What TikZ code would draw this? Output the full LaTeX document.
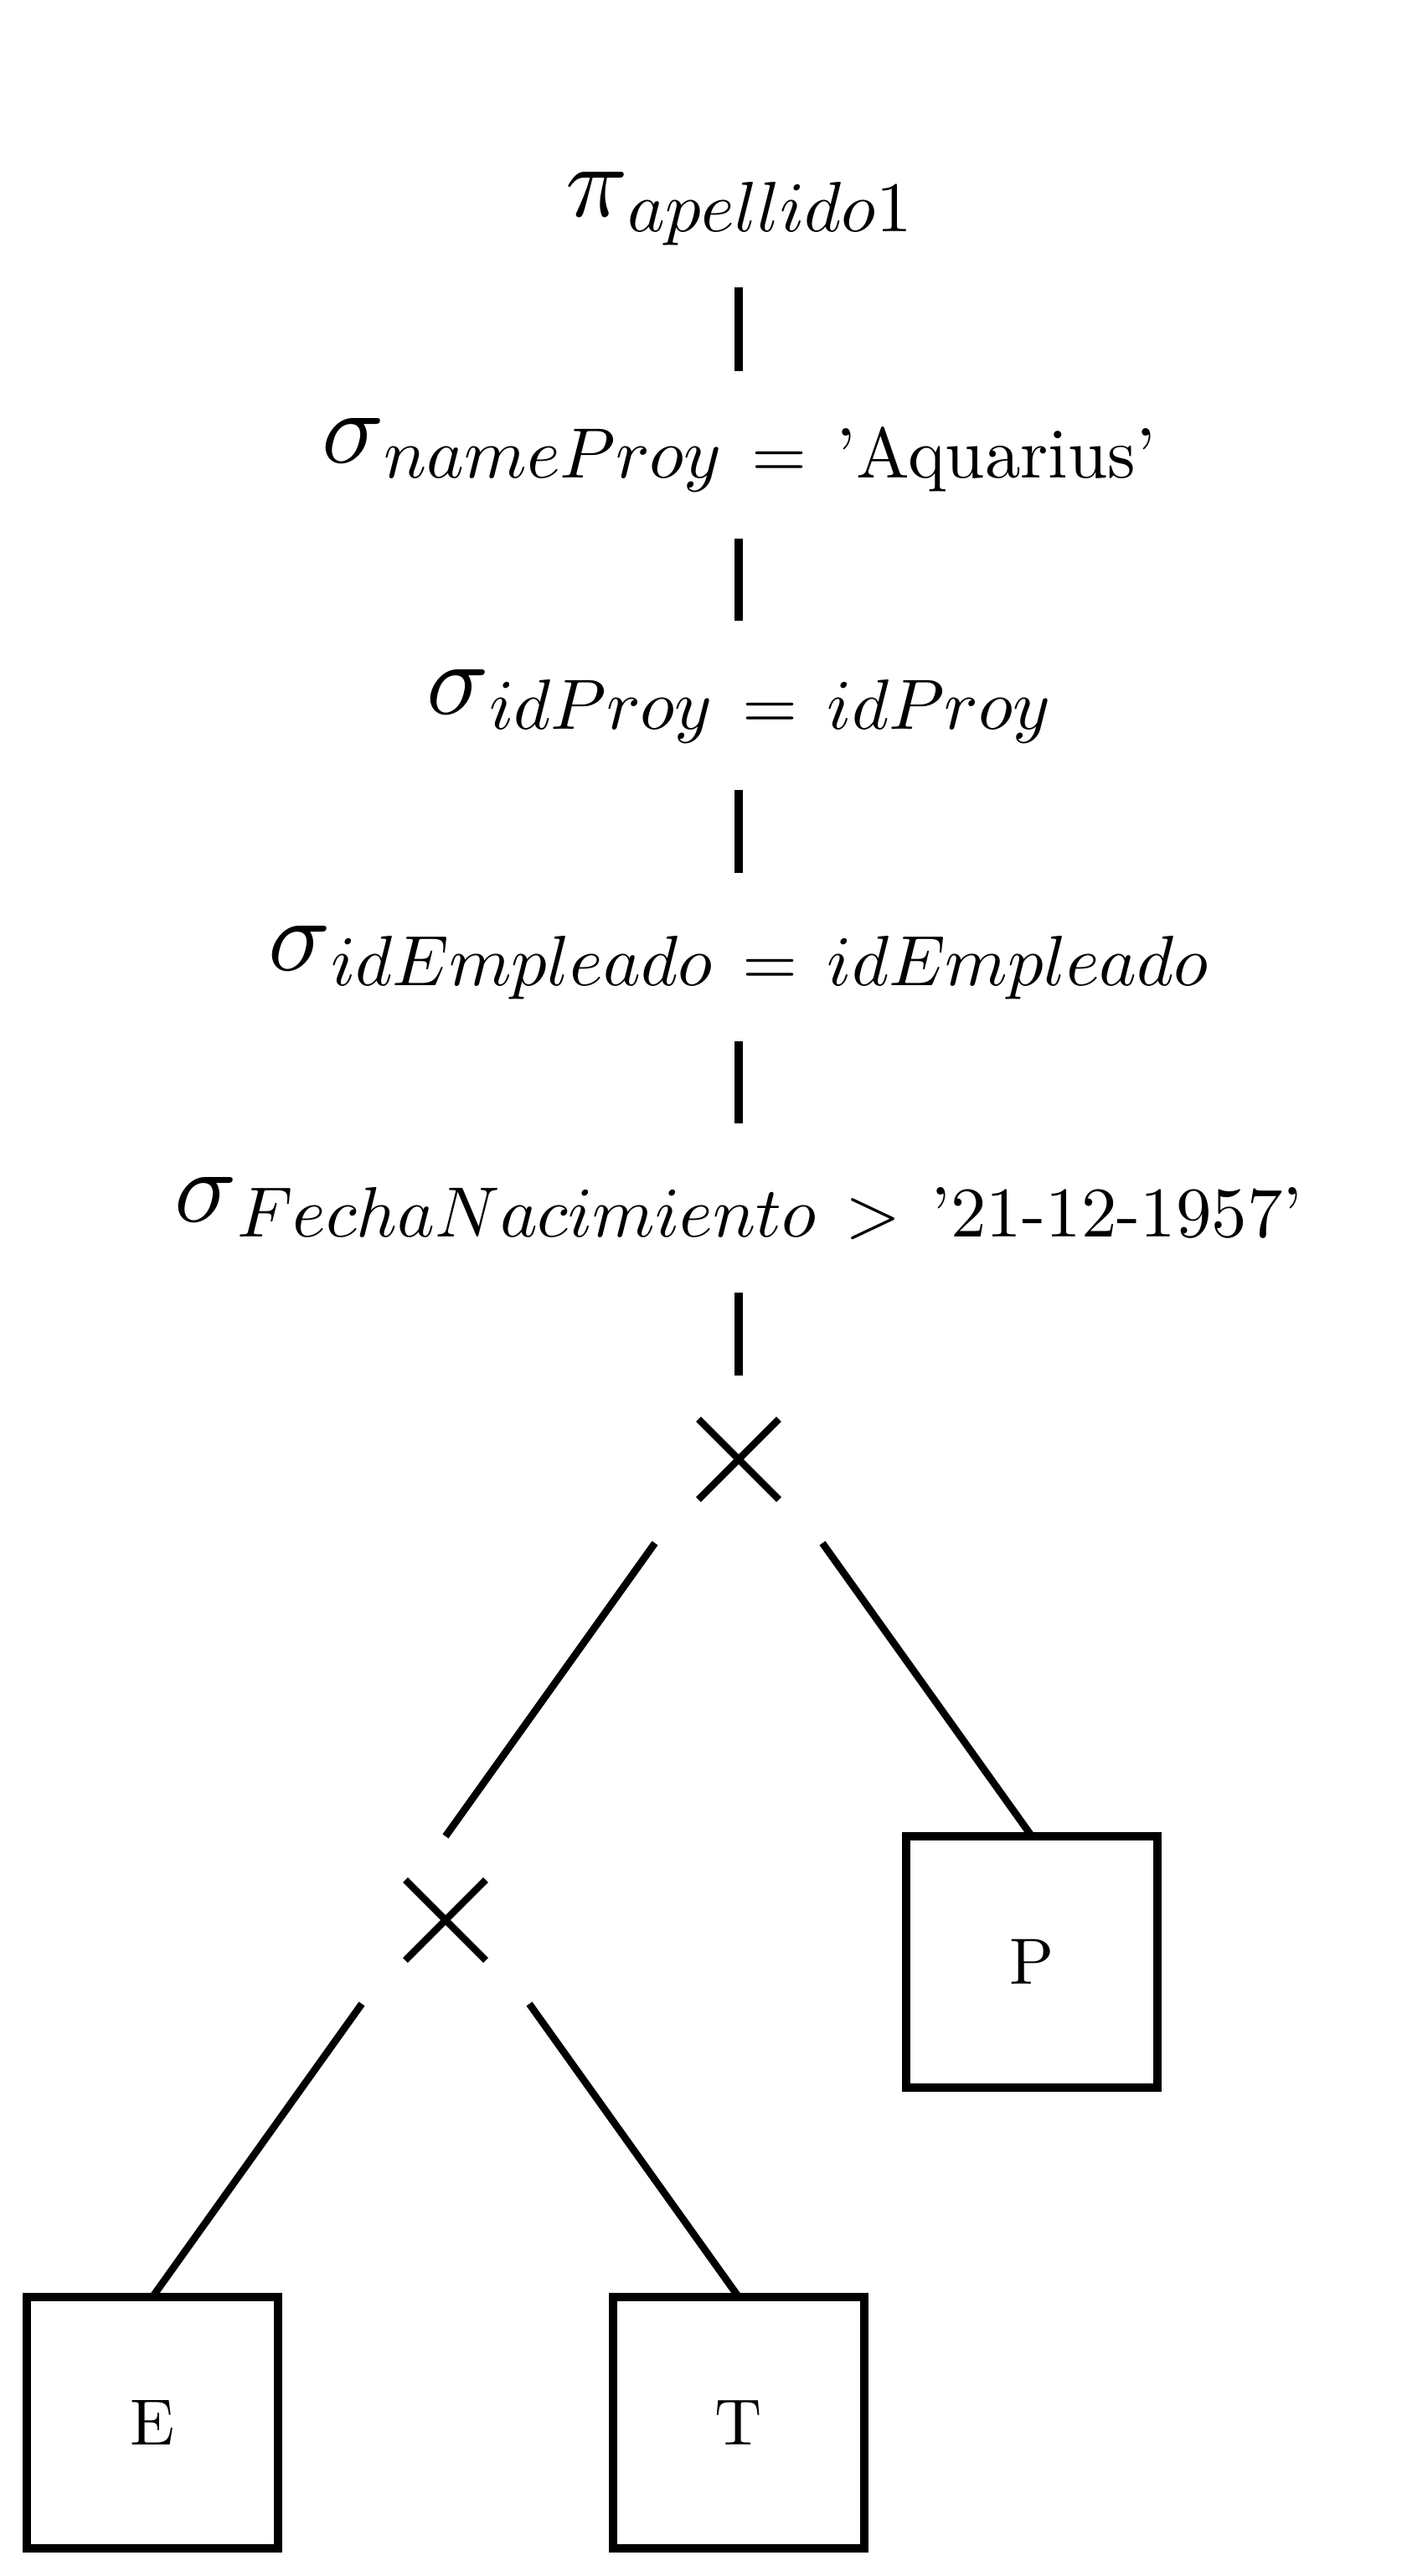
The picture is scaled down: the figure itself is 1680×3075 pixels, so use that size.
\documentclass[tikz,border=0pt]{standalone}
\usepackage{graphicx}
\usetikzlibrary{shapes.misc}
\newcommand\bigsym[1]{\raisebox{9pt}{\scalebox{6.15}{$#1$}}}
\newcommand\lbltext[1]{\scalebox{4.25}{$#1$}}
\newcommand\rel[1]{\mathrel{\mkern2.5mu#1\mkern2.5mu}}
\tikzset{
  lbl/.style={inner sep=0pt, anchor=base},
  vline/.style={line width=5pt},
  dline/.style={line width=4.3pt},
  junction/.style={minimum size=100pt, inner sep=0pt, outer sep=0pt},
  crossmark/.style={cross out, draw, line width=4.2pt, minimum size=48pt, inner sep=0pt, outer sep=0pt},
  relbox/.style={draw, line width=5pt, minimum size=150pt, inner sep=0pt, outer sep=0pt},
}
\begin{document}
\begin{tikzpicture}[x=0.5pt, y=-0.5pt]
\useasboundingbox (0,0) rectangle (1680,3075);
\node[lbl] (p)  at (882,276)  {\bigsym\pi\lbltext{apellido1}};
\node[lbl] (s1) at (882,570)  {\bigsym\sigma\lbltext{nameProy \rel{=} \mbox{’Aquarius’}}};
\node[lbl] (s2) at (882,870)  {\bigsym\sigma\lbltext{idProy \rel{=} idProy}};
\node[lbl] (s3) at (882,1176) {\bigsym\sigma\lbltext{idEmpleado \rel{=} idEmpleado}};
\node[lbl] (s4) at (882,1476) {\bigsym\sigma\lbltext{FechaNacimiento \rel{>} \mbox{’21-12-1957’}}};

\node[junction] (j1) at (882,1742) {};
\node[crossmark] (x1) at (882,1742) {};
\node[junction] (j2) at (532,2292) {};
\node[crossmark] (x2) at (532,2292) {};

\node[relbox] (P) at (1232,2342) {\scalebox{3.9}{P}};
\node[relbox] (E) at (182,2892) {\scalebox{3.9}{E}};
\node[relbox] (T) at (882,2892) {\scalebox{3.9}{T}};

\draw[vline, shorten <=33.5pt, shorten >=63.5pt] (p.base) -- (s1.base);
\draw[vline, shorten <=36.5pt, shorten >=64.5pt] (s1.base) -- (s2.base);
\draw[vline, shorten <=36.5pt, shorten >=67pt] (s2.base) -- (s3.base);
\draw[vline, shorten <=33.5pt, shorten >=67.5pt] (s3.base) -- (s4.base);
\draw[vline, shorten <=33.5pt] (s4.base) -- (j1.north);

\draw[dline] (j1.south west) -- (j2.north);
\draw[dline] (j1.south east) -- (P.north);
\draw[dline] (j2.south west) -- (E.north);
\draw[dline] (j2.south east) -- (T.north);
\end{tikzpicture}
\end{document}
